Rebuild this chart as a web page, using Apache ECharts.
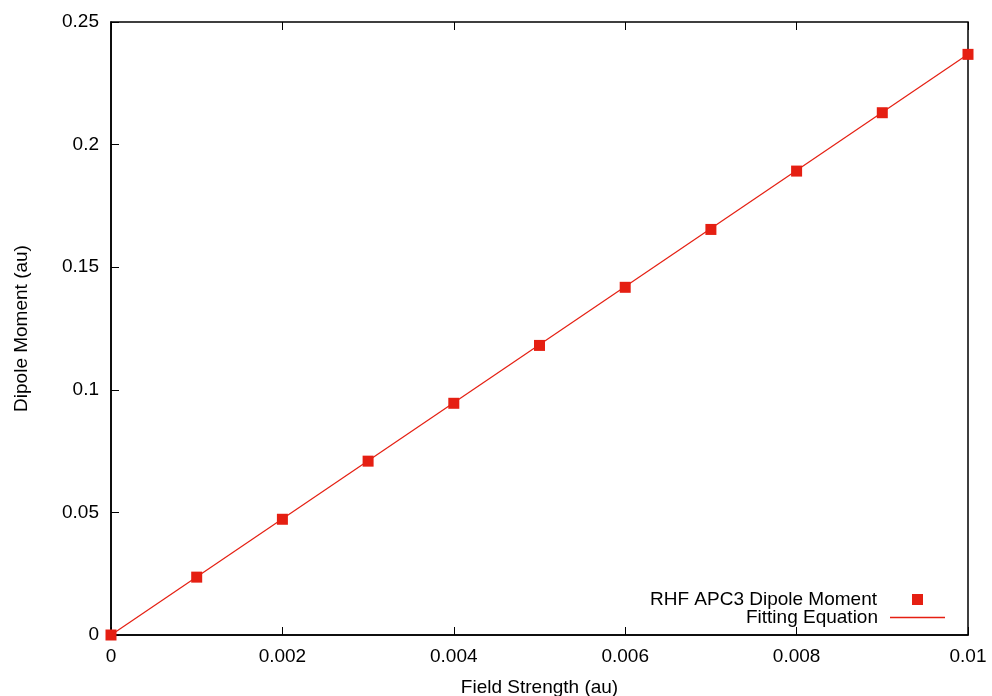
<!DOCTYPE html>
<html>
<head>
<meta charset="utf-8">
<script src="https://cdn.jsdelivr.net/npm/echarts@6/dist/echarts.min.js"></script>
<style>
  html, body { margin: 0; padding: 0; background: #fff; }
  #chart { width: 992px; height: 696px; }
</style>
</head>
<body>
<div id="chart"></div>
<script>
// Applied field strength (au) and the computed dipole moment (au)
const fieldStrength = [0, 0.001, 0.002, 0.003, 0.004, 0.005, 0.006, 0.007, 0.008, 0.009, 0.010];
const dipoleMoment  = [0, 0.0236, 0.0472, 0.0709, 0.0945, 0.1181, 0.1418, 0.1654, 0.1892, 0.2130, 0.2368];

// End points of the linear fit
const fitX = [0, 0.010];
const fitY = [0, 0.2368];

const seriesNames = ['RHF APC3 Dipole Moment', 'Fitting Equation'];
const red = '#e51f12';
const font = 'Liberation Sans, Arial, Helvetica, sans-serif';

const pointData = fieldStrength.map((x, i) => [x, dipoleMoment[i]]);
const fitData = fitX.map((x, i) => [x, fitY[i]]);

const chart = echarts.init(document.getElementById('chart'), null, { renderer: 'canvas' });

const tickStyle = { show: true, inside: true, length: 8, lineStyle: { color: '#000', width: 1 } };
const legendText = { fontFamily: font, fontSize: 19, lineHeight: 19, color: '#000' };

chart.setOption({
  animation: false,
  backgroundColor: '#fff',
  grid: {
    left: 111, right: 24, top: 22, bottom: 61,
    outerBoundsMode: 'none',
    containLabel: false,
    show: true, borderColor: '#000', borderWidth: 1.5, backgroundColor: 'transparent'
  },
  legend: [{
    // key entry for the computed points: a small square
    orient: 'vertical',
    align: 'right',
    right: 69,
    top: 590,
    padding: 0,
    itemWidth: 11,
    itemHeight: 11,
    selectedMode: false,
    textStyle: Object.assign({ padding: [0, 30, 0, 0] }, legendText),
    data: [{ name: seriesNames[0], icon: 'rect' }]
  }, {
    // key entry for the fitted line: a short thin stroke
    orient: 'vertical',
    align: 'right',
    right: 47,
    top: 608,
    padding: 0,
    itemWidth: 55,
    itemHeight: 1.5,
    selectedMode: false,
    textStyle: Object.assign({ padding: [0, 7, 0, 0] }, legendText),
    data: [{ name: seriesNames[1], icon: 'rect' }]
  }],
  xAxis: [{
    type: 'value',
    min: 0, max: 0.01, interval: 0.002,
    name: 'Field Strength (au)',
    nameLocation: 'middle',
    nameGap: 43,
    nameTextStyle: { fontFamily: font, fontSize: 19, color: '#000' },
    axisLine: { show: true, onZero: false, lineStyle: { color: '#000', width: 1.5 } },
    axisTick: tickStyle,
    axisLabel: { fontFamily: font, fontSize: 19, color: '#000', margin: 12 },
    splitLine: { show: false }
  }, {
    // mirrored ticks along the top edge
    type: 'value',
    position: 'top',
    min: 0, max: 0.01, interval: 0.002,
    axisLine: { show: false, onZero: false },
    axisTick: tickStyle,
    axisLabel: { show: false },
    splitLine: { show: false }
  }],
  yAxis: [{
    type: 'value',
    min: 0, max: 0.25, interval: 0.05,
    name: 'Dipole Moment (au)',
    nameLocation: 'middle',
    nameGap: 80,
    nameTextStyle: { fontFamily: font, fontSize: 19, color: '#000' },
    axisLine: { show: true, onZero: false, lineStyle: { color: '#000', width: 1.5 } },
    axisTick: tickStyle,
    axisLabel: { fontFamily: font, fontSize: 19, color: '#000', margin: 12 },
    splitLine: { show: false }
  }],
  series: [{
    name: seriesNames[1],
    type: 'line',
    data: fitData,
    symbol: 'none',
    clip: false,
    z: 2,
    lineStyle: { color: red, width: 1.2 },
    itemStyle: { color: red }
  }, {
    name: seriesNames[0],
    type: 'scatter',
    data: pointData,
    symbol: 'rect',
    symbolSize: 11,
    clip: false,
    z: 3,
    itemStyle: { color: red, opacity: 1 }
  }]
});
</script>
</body>
</html>
